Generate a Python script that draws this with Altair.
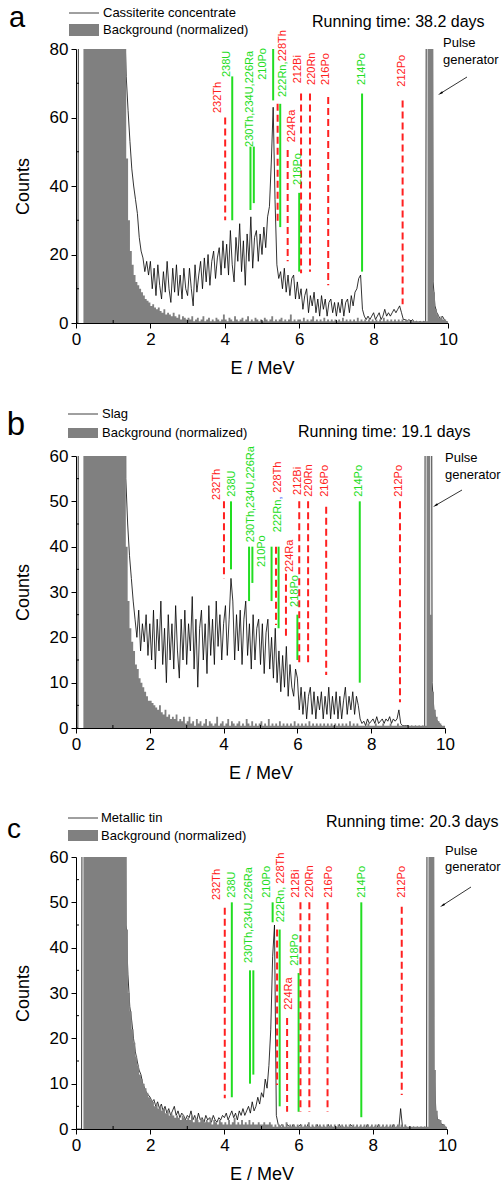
import altair as alt
import pandas as pd

RED = "#ff2020"
GREEN = "#22dd22"
BLUE = "#3050ff"
GRAY = "#808080"
FONT = "Liberation Sans"

# energy grid (MeV), 0.05 MeV bins
energy = [round(i * 0.05, 2) for i in range(201)]
H = 300  # off-scale values (clipped)

# ---------------- panel a : Cassiterite concentrate ----------------
a_sample = (
    [0, 0] + [H] * 18
    + [H] * 6 + [90, 72, 62, 53, 45, 40, 36, 32, 25, 21, 19, 15, 18, 14]
    + [18, 10, 16, 8, 17, 11, 7, 15, 9, 18, 10, 6, 16, 9, 17, 8, 14, 7, 16, 10]
    + [8, 16, 10, 5, 17, 9, 14, 18, 10, 19, 12, 20, 11, 18, 21, 13, 19, 22, 14, 24]
    + [16, 23, 14, 27, 17, 12, 25, 18, 29, 15, 24, 11, 26, 18, 31, 16, 25, 27, 18, 26]
    + [20, 28, 22, 31, 34, 47, 63, 36, 17, 13, 15, 10, 16, 9, 14, 8, 13, 14, 7, 12]
    + [7, 10, 4, 8, 10, 3, 8, 5, 9, 3, 7, 2, 8, 4, 7, 2, 6, 7, 3, 6]
    + [2, 6, 3, 7, 2, 6, 7, 3, 8, 5, 9, 10, 13, 14, 4, 2, 1, 2, 1, 2]
    + [3, 1, 2, 3, 1, 2, 4, 2, 3, 2, 3, 4, 3, 4, 5, 3, 1, 1, 0.5, 1]
    + [0.5, 1, 0, 0.5, 0, 0.5, 0, 0.5, 0, H, H, H, 12, 5, 3, 2, 1, 2, 1, 0.5]
    + [0]
)
a_bg = (
    [0, 0, 0, 0] + [H] * 16
    + [H] * 7 + [48, 30, 21, 17, 14, 12, 11, 10, 9, 8, 7, 6.5, 6]
    + [5, 5.5, 4.5, 4, 4.5, 3.5, 3, 4, 2.5, 3, 2.5, 2, 3, 2, 1.5, 2.5, 1, 2, 1.5, 1]
    + [1.5, 1, 2, 0.5, 1, 1.5, 0.5, 1, 2, 0.5, 1, 1.5, 0.5, 1, 0.5, 1.5, 1, 0.5, 1, 2.5]
    + [1, 0.5, 1.5, 1, 0.5, 2, 1, 0.5, 1, 1.5, 0.5, 1, 2, 0.5, 1, 0.5, 1.5, 1, 0.5, 1]
    + [0.5, 1.5, 1, 0.5, 1, 2, 0.5, 1, 0.5, 1, 1.5, 0.5, 1, 0.5, 1, 2.5, 0.5, 1, 0.5, 1]
    + [1, 0.5, 1.5, 0.5, 1, 0.5, 1, 2, 0.5, 1, 0.5, 1, 0.5, 1.5, 0.5, 1, 0.5, 1, 0.5, 1]
    + [0.5, 1, 0.5, 1.5, 0.5, 1, 0.5, 1, 0.5, 1, 0.5, 1.5, 0.5, 1, 0.5, 1, 0.5, 1, 0.5, 1]
    + [0.5, 1, 0.5, 1, 0.5, 1.5, 0.5, 1, 0.5, 1, 0.5, 1, 0.5, 1, 0.5, 1, 0.5, 1, 0.5, 0.5]
    + [0.5, 0.5, 0.5, 0.5, 0.5, 0.5, 0.5, 0.5, 0.5, H, H, H, 9, 4, 2.5, 1.5, 2, 1, 1, 0.5]
    + [0]
)

# ---------------- panel b : Slag ----------------
b_sample = (
    [0, 0] + [H] * 18
    + [H] * 7 + [55, 45, 38, 33, 28, 24, 20, 26, 17, 23, 19, 25, 16]
    + [23, 15, 26, 13, 24, 17, 28, 14, 22, 10, 25, 15, 23, 13, 27, 17, 11, 24, 15, 26]
    + [14, 23, 17, 29, 13, 24, 9, 22, 26, 15, 23, 12, 27, 16, 24, 14, 28, 18, 25, 15]
    + [23, 27, 16, 24, 33, 28, 15, 25, 17, 26, 14, 24, 28, 16, 23, 13, 25, 15, 22, 24]
    + [14, 23, 12, 21, 24, 13, 20, 11, 22, 10, 17, 8, 16, 9, 18, 7, 14, 9, 7, 13]
    + [11, 4, 9, 3, 8, 2, 7, 9, 3, 8, 2, 7, 4, 8, 2, 7, 3, 9, 2, 7]
    + [3, 8, 2, 7, 2, 6, 9, 3, 7, 4, 8, 3, 7, 5, 2, 1, 1.5, 0.5, 2, 1]
    + [1.5, 2, 1, 2.5, 1, 1.5, 2, 1, 2, 1.5, 2.5, 1, 2, 1.5, 2, 4, 1, 0.5, 0.5, 0.5]
    + [0.5, 0, 0.5, 0, 0.5, 0, 0.5, 0, 0.5, 0, H, H, H, 10, 4, 2, 1.5, 1, 0.5, 0]
    + [0]
)
b_bg = (
    [0, 0, 0, 0] + [H] * 16
    + [H] * 7 + [40, 28, 22, 19, 17, 14, 13, 11, 10, 9, 8, 7, 6]
    + [6, 5.5, 5, 4.5, 4, 5, 3.5, 3, 4, 2.5, 3, 2, 2.5, 2, 3, 1.5, 2, 1.5, 2.5, 1]
    + [1.5, 2.5, 1, 1.5, 0.5, 2, 1, 1.5, 0.5, 1, 2, 0.5, 1.5, 1, 0.5, 1, 2.5, 0.5, 1, 1.5]
    + [0.5, 1, 2, 0.5, 1.5, 1, 0.5, 1, 1.5, 0.5, 1, 0.5, 2, 1, 0.5, 1.5, 0.5, 1, 0.5, 1]
    + [1.5, 0.5, 1, 0.5, 2, 0.5, 1, 0.5, 1, 0.5, 1.5, 0.5, 1, 0.5, 1, 0.5, 1, 0.5, 1.5, 0.5]
    + [1, 0.5, 1, 0.5, 1, 0.5, 1.5, 0.5, 1, 0.5, 1, 0.5, 1, 0.5, 1, 0.5, 1, 0.5, 1, 0.5]
    + [1, 0.5, 1, 0.5, 1, 0.5, 1, 0.5, 1.5, 0.5, 1, 0.5, 1, 0.5, 0.5, 0.5, 0.5, 0.5, 1, 0.5]
    + [0.5, 0.5, 1, 0.5, 0.5, 0.5, 1, 0.5, 0.5, 0.5, 1, 0.5, 0.5, 0.5, 1, 0.5, 0.5, 0.5, 0.5, 0.5]
    + [0.5, 0.5, 0.5, 0.5, 0.5, 0.5, 0.5, 0.5, 0.5, 0.5, H, H, 25, 8, 4, 2.5, 1.5, 1, 0.5, 0.5]
    + [0]
)

# ---------------- panel c : Metallic tin ----------------
c_sample = (
    [0, 0, 0, 0] + [H] * 16
    + [H] * 7 + [45, 34, 27, 24, 20, 17, 15, 13, 12, 10, 9, 8, 7.5]
    + [7, 6, 6.5, 5, 6, 4.5, 5.5, 4, 5, 3.5, 4.5, 3, 4, 5, 3, 4, 2.5, 3.5, 3, 2]
    + [3, 2.5, 4, 2, 3, 1.5, 3.5, 2, 2.5, 1.5, 3, 2, 2.5, 1.5, 3, 2, 1.5, 2.5, 2, 3]
    + [2.5, 3.5, 2, 3, 4, 2.5, 3.5, 2, 4, 3, 4.5, 3, 4, 5, 3.5, 6, 4, 5, 7, 5.5]
    + [8, 7, 11, 9, 14, 22, 38, 45, 3, 1, 0.5, 1, 0.5, 0, 1, 0.5, 0, 1, 0.5, 0]
    + [0.5, 1, 0, 0.5, 0, 1, 0.5, 0, 0.5, 0, 1, 0, 0.5, 0, 0.5, 0, 1, 0, 0.5, 0]
    + [0.5, 0, 1, 0, 0.5, 0, 0.5, 0, 1, 0.5, 0, 0.5, 0, 0.5, 0, 0.5, 0, 1, 0, 0.5]
    + [0, 0.5, 0, 1, 0, 0.5, 0, 0.5, 0, 0.5, 0, 1, 0, 0.5, 0, 4.5, 0.5, 0, 0.5, 0]
    + [0.5, 0, 0.5, 0, 0.5, 0, 0.5, 0, 0.5, 0, H, H, H, 13, 4, 2, 2, 1, 1, 0.5]
    + [0]
)
c_bg = (
    [0, 0, 0, 0] + [H] * 16
    + [H] * 7 + [44, 30, 26, 22, 19, 16, 14, 12, 11, 10, 9, 8, 7]
    + [6.5, 6, 5, 5.5, 4.5, 5, 4, 4.5, 3.5, 4, 3, 3.5, 3, 2.5, 3, 2.5, 2, 3, 2.5, 2]
    + [2.5, 2, 3, 1.5, 2.5, 2, 1.5, 2.5, 2, 1.5, 2, 1.5, 2.5, 1, 2, 1.5, 1, 2, 1.5, 1]
    + [1.5, 1, 2, 1, 1.5, 2.5, 1, 1.5, 1, 2, 1, 1.5, 1, 2, 1, 1.5, 1, 1, 1.5, 1]
    + [1, 1.5, 1, 1, 1.5, 1, 0.5, 1, 0.5, 1, 0.5, 1, 0.5, 1.5, 0.5, 1, 0.5, 1, 0.5, 1]
    + [0.5, 1, 0.5, 1, 0.5, 1.5, 0.5, 1, 0.5, 1, 0.5, 1, 0.5, 1, 0.5, 1, 0.5, 1, 0.5, 1]
    + [0.5, 1, 0.5, 1, 0.5, 1, 0.5, 1, 0.5, 1, 0.5, 1, 0.5, 1, 0.5, 1, 0.5, 1, 0.5, 1]
    + [0.5, 1, 0.5, 1, 0.5, 1, 0.5, 1, 0.5, 1, 0.5, 1, 0.5, 1, 0.5, 1, 0.5, 1, 0.5, 0.5]
    + [0.5, 0.5, 0.5, 0.5, 0.5, 0.5, 0.5, 0.5, 0.5, 0.5, H, H, H, 13, 4, 2, 2, 1, 1, 0.5]
    + [0]
)

# ---------------- alpha lines ----------------
iso_names = ["232Th", "238U", "230Th", "226Ra", "210Po", "228Th", "222Rn",
             "224Ra", "218Po", "212Bi", "220Rn", "216Po", "214Po", "212Po"]
iso_energy = [4.01, 4.20, 4.69, 4.78, 5.30, 5.42, 5.49, 5.69, 6.00, 6.05, 6.29, 6.78, 7.69, 8.78]
iso_series = ["Th", "U", "U", "U", "U", "Th", "U", "Th", "U", "Th", "Th", "Th", "U", "Th"]

a_lo = [30, 30, 33, 35, 65, 29, 28, 18, 15, 14.5, 15, 11, 15, 5.5]
a_hi = [60, 72, 51.5, 51.5, 80, 64, 64, 50.5, 38, 67, 67, 66, 67, 65]
b_lo = [33, 35, 28, 32, 28, 22.7, 22, 20, 15, 14, 14, 11.7, 10, 5.7]
b_hi = [50, 50, 40, 40, 40, 40, 40, 34, 25, 50, 50, 48.8, 50, 50]
c_lo = [6.8, 7, 10, 12, 45.6, 9.7, 5, 3.8, 3.8, 3.8, 3.8, 3.8, 2.6, 7.5]
c_hi = [48.8, 50, 35, 35, 50, 44, 44, 24.5, 34.4, 50, 50, 50, 50, 49]

a_lab_text = ["232Th", "238U", "230Th,234U,226Ra", "210Po", "222Rn,", "228Th", "224Ra",
              "218Po", "212Bi", "220Rn", "216Po", "214Po", "212Po"]
a_lab_col = ["Th", "U", "U", "U", "U", "Th", "Th", "U", "Th", "Th", "Th", "U", "Th"]
a_lab_x = [3.82, 4.06, 4.68, 5.03, 5.56, 5.56, 5.81, 5.97, 5.97, 6.34, 6.72, 7.69, 8.76]
a_lab_y = [61.3, 71.8, 51.4, 71, 66, 76.4, 52.8, 40.3, 70, 69.5, 69.5, 69.5, 69]

b_lab_text = ["232Th", "238U", "230Th,234U,226Ra", "210Po", "222Rn", ",", "228Th", "224Ra",
              "218Po", "212Bi", "220Rn", "216Po", "214Po", "212Po"]
b_lab_col = ["Th", "U", "U", "U", "U", "comma", "Th", "Th", "U", "Th", "Th", "Th", "U", "Th"]
b_lab_x = [3.82, 4.23, 4.74, 5.04, 5.47, 5.47, 5.47, 5.80, 5.93, 6.02, 6.31, 6.75, 7.67, 8.75]
b_lab_y = [50.3, 51, 41, 35.5, 43.2, 50.4, 51.9, 34.4, 26.7, 51.4, 51, 51, 51, 51]

c_lab_text = ["232Th", "238U", "230Th,234U,226Ra", "210Po", "222Rn,", "228Th", "224Ra",
              "218Po", "212Bi", "220Rn", "216Po", "214Po", "212Po"]
c_lab_col = ["Th", "U", "U", "U", "U", "Th", "Th", "U", "Th", "Th", "Th", "U", "Th"]
c_lab_x = [3.80, 4.20, 4.66, 5.15, 5.53, 5.53, 5.74, 5.90, 5.93, 6.31, 6.82, 7.71, 8.79]
c_lab_y = [50.5, 51, 36.6, 51, 45.6, 54.1, 26.3, 36, 51, 51, 51, 51, 51]

x_major = [0, 2, 4, 6, 8, 10]
x_minor = [1, 3, 5, 7, 9]

panels = [
    dict(letter="a", letter_size=29, letter_pos=(-59, -22), name="Cassiterite concentrate",
         running="Running time: 38.2 days", sample=a_sample, bg=a_bg, ymax=80,
         yticks=[0, 20, 40, 60, 80], yminor=[10, 30, 50, 70], w=372, h=274, top=49,
         lo=a_lo, hi=a_hi, lt=a_lab_text, lc=a_lab_col, lx=a_lab_x, ly=a_lab_y,
         leg_x=(-7, 23, 27), leg_line_y=-36, leg_rect=(-25, -13), run_pos=(236, -27),
         pulse_pos=(367, -6, 11), arrow=(391, 28, 362, 46)),
    dict(letter="b", letter_size=33, letter_pos=(-60, -21), name="Slag",
         running="Running time: 19.1 days", sample=b_sample, bg=b_bg, ymax=60,
         yticks=[0, 10, 20, 30, 40, 50, 60], yminor=[5, 15, 25, 35, 45, 55], w=369, h=272, top=60,
         lo=b_lo, hi=b_hi, lt=b_lab_text, lc=b_lab_col, lx=b_lab_x, ly=b_lab_y,
         leg_x=(-8, 22, 26), leg_line_y=-42, leg_rect=(-28, -18), run_pos=(222, -24),
         pulse_pos=(369, 2, 19), arrow=(386, 34, 357, 51)),
    dict(letter="c", letter_size=28, letter_pos=(-62, -19), name="Metallic tin",
         running="Running time: 20.3 days", sample=c_sample, bg=c_bg, ymax=60,
         yticks=[0, 10, 20, 30, 40, 50, 60], yminor=[5, 15, 25, 35, 45, 55], w=371, h=272, top=56,
         lo=c_lo, hi=c_hi, lt=c_lab_text, lc=c_lab_col, lx=c_lab_x, ly=c_lab_y,
         leg_x=(-8, 22, 25), leg_line_y=-39, leg_rect=(-27, -16), run_pos=(250, -35),
         pulse_pos=(369, -6, 10), arrow=(395, 30, 364, 50)),
]

one = pd.DataFrame({"k": [0]})


def vtext(txt, x, y, size, align="left", baseline="middle", color="black"):
    return alt.Chart(one).mark_text(text=txt, fontSize=size, align=align, baseline=baseline,
                                    color=color, font=FONT).encode(x=alt.value(x), y=alt.value(y))


def make_panel(p):
    W, Hh, ymax = p["w"], p["h"], p["ymax"]
    spec = pd.DataFrame({"E": energy, "sample": p["sample"], "bg": p["bg"]})
    xs = alt.Scale(domain=[0, 10], nice=False, zero=False)
    ys = alt.Scale(domain=[0, ymax], nice=False)
    x_axis = alt.Axis(values=x_major, format="d", title="E / MeV", labelFlush=False, tickSize=5,
                      labelPadding=3, titlePadding=12)
    y_axis = alt.Axis(values=p["yticks"], format="d", title="Counts", tickSize=5, labelPadding=3,
                      titlePadding=17)
    XT, YT = "E / MeV", "Counts"
    layers = []
    layers.append(alt.Chart(spec).mark_line(color="black", strokeWidth=0.8, clip=True).encode(
        x=alt.X("E:Q", scale=xs, axis=x_axis, title=XT),
        y=alt.Y("sample:Q", scale=ys, axis=y_axis, title=YT)))
    layers.append(alt.Chart(spec).mark_area(interpolate="step-after", color=GRAY, clip=True).encode(
        x=alt.X("E:Q", title=XT), y=alt.Y("bg:Q", title=YT)))
    # minor ticks
    layers.append(alt.Chart(pd.DataFrame({"E": x_minor})).mark_rule(color="black").encode(
        x=alt.X("E:Q", title=XT), y=alt.value(Hh), y2=alt.value(Hh - 3)))
    layers.append(alt.Chart(pd.DataFrame({"c": p["yminor"]})).mark_rule(color="black").encode(
        y=alt.Y("c:Q", title=YT), x=alt.value(0), x2=alt.value(3)))
    # alpha lines
    mk = pd.DataFrame({"E": iso_energy, "lo": p["lo"], "hi": p["hi"], "s": iso_series, "n": iso_names})
    layers.append(alt.Chart(mk).transform_filter(alt.datum.s == "U").mark_rule(
        color=GREEN, strokeWidth=2).encode(
        x=alt.X("E:Q", title=XT), y=alt.Y("hi:Q", title=YT), y2="lo:Q"))
    layers.append(alt.Chart(mk).transform_filter(alt.datum.s == "Th").mark_rule(
        color=RED, strokeWidth=2, strokeDash=[7, 4]).encode(
        x=alt.X("E:Q", title=XT), y=alt.Y("hi:Q", title=YT), y2="lo:Q"))
    lab = pd.DataFrame({"t": p["lt"], "s": p["lc"], "x": p["lx"], "y": p["ly"]})
    layers.append(alt.Chart(lab).mark_text(angle=270, align="left", baseline="middle",
                                           fontSize=11, font=FONT).encode(
        x=alt.X("x:Q", title=XT), y=alt.Y("y:Q", title=YT), text="t:N",
        color=alt.Color("s:N", scale=alt.Scale(domain=["Th", "U", "comma"], range=[RED, GREEN, BLUE]),
                        legend=None)))
    # panel letter
    lx, ly = p["letter_pos"]
    layers.append(vtext(p["letter"], lx, ly, p["letter_size"], align="center", baseline="alphabetic"))
    # legend
    x0, x1, xt = p["leg_x"]
    layers.append(alt.Chart(one).mark_rule(color="#404040", strokeWidth=1).encode(
        x=alt.value(x0), x2=alt.value(x1), y=alt.value(p["leg_line_y"])))
    r0, r1 = p["leg_rect"]
    layers.append(alt.Chart(one).mark_rect(color=GRAY).encode(
        x=alt.value(x0), x2=alt.value(x1), y=alt.value(r0), y2=alt.value(r1)))
    layers.append(vtext(p["name"], xt, p["leg_line_y"], 13))
    layers.append(vtext("Background (normalized)", xt, (r0 + r1) / 2, 13))
    # running time
    rx, ry = p["run_pos"]
    layers.append(vtext(p["running"], rx, ry, 16))
    # pulse generator
    px, py1, py2 = p["pulse_pos"]
    layers.append(vtext("Pulse", px, py1, 13))
    layers.append(vtext("generator", px, py2, 13))
    ax0, ay0, ax1, ay1 = p["arrow"]
    layers.append(alt.Chart(one).mark_rule(color="black", strokeWidth=0.8).encode(
        x=alt.value(ax0), y=alt.value(ay0), x2=alt.value(ax1 + 2), y2=alt.value(ay1 - 1.3)))
    layers.append(alt.Chart(one).mark_point(shape="M0,-1L0.35,0.7L-0.35,0.7Z", filled=True, size=40,
                                            angle=238, color="black", opacity=1).encode(
        x=alt.value(ax1 + 2.7), y=alt.value(ay1 - 1.7)))
    # invisible layout anchor
    layers.append(alt.Chart(one).mark_rule(opacity=0, strokeWidth=1).encode(
        x=alt.value(-76), y=alt.value(-p["top"]), y2=alt.value(Hh + 60)))
    return alt.layer(*layers).properties(width=W, height=Hh)


chart = alt.vconcat(*[make_panel(p) for p in panels], spacing=13).properties(
    padding={"left": 0, "top": 0, "right": 0, "bottom": 0}
).configure_view(stroke=None).configure_axis(
    labelFont=FONT, titleFont=FONT, labelFontSize=17, titleFontSize=18, titleFontWeight="normal",
    domainColor="black", tickColor="black", labelColor="black", titleColor="black", grid=False
)

chart.save("out.html", embed_options={"renderer": "svg", "actions": False})
